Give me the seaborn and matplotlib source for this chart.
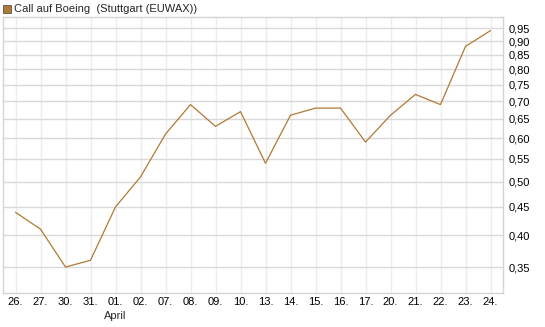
import seaborn as sns
import matplotlib.pyplot as plt
import matplotlib.ticker as mticker
import pandas as pd

# data
days = ["26.", "27.", "30.", "31.", "01.", "02.", "07.", "08.", "09.", "10.",
        "13.", "14.", "15.", "16.", "17.", "20.", "21.", "22.", "23.", "24."]
prices = [0.44, 0.41, 0.35, 0.36, 0.45, 0.51, 0.61, 0.69, 0.63, 0.67,
          0.54, 0.66, 0.68, 0.68, 0.59, 0.66, 0.72, 0.69, 0.88, 0.94]
yticks = [0.35, 0.40, 0.45, 0.50, 0.55, 0.60, 0.65, 0.70, 0.75, 0.80, 0.85, 0.90, 0.95]

df = pd.DataFrame({"pos": range(len(days)), "price": prices})

sns.set_style("white")
plt.rcParams['font.family'] = ['Liberation Sans', 'DejaVu Sans']

line_col = "#b07a35"

fig = plt.figure(figsize=(5.45, 3.27), dpi=100)
ax = fig.add_axes([3/545, 34/327, 500/545, 276/327])

sns.lineplot(data=df, x="pos", y="price", color=line_col, lw=0.9, ax=ax)

ax.set_yscale("log")
ax.set_ylim(0.314, 0.995)
ax.set_xlim(-0.5, len(days) - 0.5)

ax.yaxis.set_major_locator(mticker.FixedLocator(yticks))
ax.yaxis.set_minor_locator(mticker.NullLocator())
ax.set_yticklabels([f"{v:.2f}".replace(".", ",") for v in yticks], fontsize=8)
ax.yaxis.tick_right()

ax.set_xticks(range(len(days)))
ax.set_xticklabels(days, fontsize=8)
ax.tick_params(length=0, pad=4, colors="#000000")
ax.tick_params(axis="x", pad=3)

ax.grid(axis="y", color="#d9d9d9", lw=1)
ax.grid(axis="x", color="#ececec", lw=1)
ax.set_axisbelow(True)

for axis in ['top', 'bottom', 'left', 'right']:
    ax.spines[axis].set_color('#d4d4d4')
    ax.spines[axis].set_linewidth(1)

ax.set(xlabel=None, ylabel=None)

# month label under 01.
ax.text(4, -0.066, "April", transform=ax.get_xaxis_transform(), ha="center",
        va="top", fontsize=8)

# legend-like title
fig.patches.append(plt.Rectangle((3/545, 1 - 13/327), 8/545, 8/327,
                                 transform=fig.transFigure, facecolor=line_col,
                                 edgecolor="#555555", lw=0.6))
fig.text(14/545, 1 - 9/327, "Call auf Boeing  (Stuttgart (EUWAX))",
         fontsize=8, va="center", ha="left")

plt.savefig("out.png", dpi=100)
